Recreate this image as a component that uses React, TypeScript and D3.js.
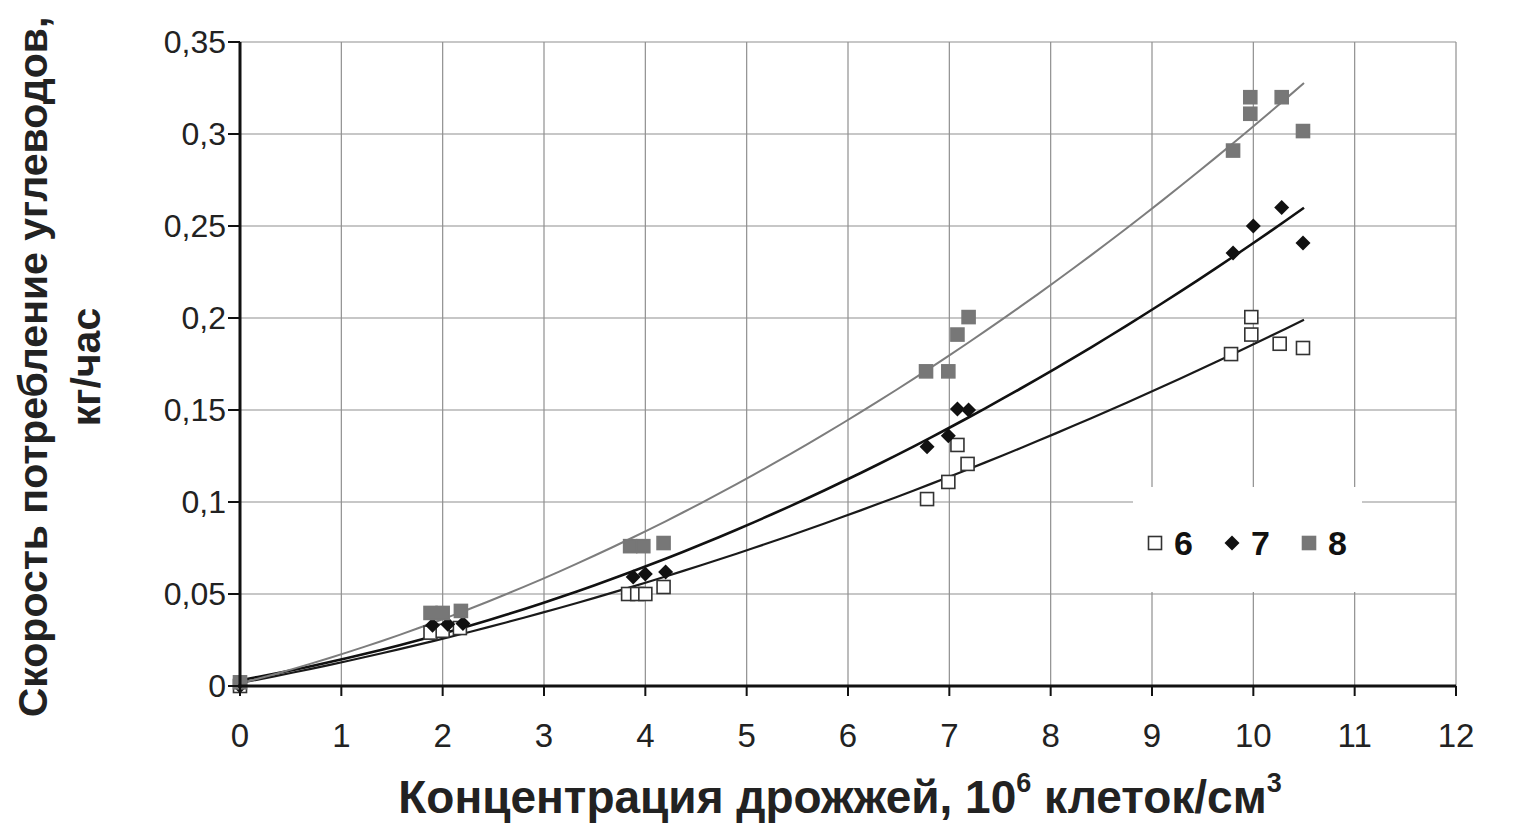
import React from "react";
import * as d3 from "d3";

// readings: [x (10^6 cells/cm3), y (kg/h)]
const series6: [number, number][] = [
  [0, 0], [1.88, 0.029], [2.0, 0.030], [2.17, 0.0315],
  [3.83, 0.050], [3.92, 0.050], [4.0, 0.050], [4.18, 0.0538],
  [6.78, 0.1016], [6.99, 0.1109], [7.08, 0.131], [7.18, 0.1207],
  [9.78, 0.1804], [9.98, 0.2005], [9.98, 0.191], [10.26, 0.186], [10.49, 0.1837],
];
const series7: [number, number][] = [
  [0, 0], [1.9, 0.033], [2.05, 0.0335], [2.2, 0.034],
  [3.88, 0.0592], [4.0, 0.0609], [4.2, 0.062],
  [6.78, 0.130], [6.99, 0.136], [7.08, 0.1505], [7.19, 0.150],
  [9.8, 0.2353], [10.0, 0.250], [10.28, 0.260], [10.49, 0.2408],
];
const series8: [number, number][] = [
  [0, 0.002], [1.88, 0.0397], [2.0, 0.0397], [2.18, 0.0408],
  [3.85, 0.076], [3.98, 0.076], [4.18, 0.0777],
  [6.77, 0.171], [6.99, 0.171], [7.08, 0.191], [7.19, 0.2005],
  [9.8, 0.291], [9.97, 0.320], [9.97, 0.311], [10.28, 0.320], [10.49, 0.3016],
];
const legendNames = ["6", "7", "8"];
const xTicks = d3.range(0, 13, 1);
const yTicks = [0, 0.05, 0.1, 0.15, 0.2, 0.25, 0.3, 0.35];
const trendEnd = 10.5;

const W = 1517;
const H = 827;
const ruLocale = d3.formatLocale({ decimal: ",", thousands: " ", grouping: [3], currency: ["", ""] });
const fmt = ruLocale.format("~g");

// least squares fit, y = a + b x + c x^2
function quadFit(pts: [number, number][]) {
  let s0 = 0, s1 = 0, s2 = 0, s3 = 0, s4 = 0, t0 = 0, t1 = 0, t2 = 0;
  for (const [x, y] of pts) {
    s0 += 1; s1 += x; s2 += x * x; s3 += x ** 3; s4 += x ** 4;
    t0 += y; t1 += x * y; t2 += x * x * y;
  }
  const m = [[s0, s1, s2, t0], [s1, s2, s3, t1], [s2, s3, s4, t2]];
  for (let i = 0; i < 3; i++) {
    for (let k = i + 1; k < 3; k++) {
      const f = m[k][i] / m[i][i];
      for (let j = i; j < 4; j++) m[k][j] -= f * m[i][j];
    }
  }
  const r = [0, 0, 0];
  for (let i = 2; i >= 0; i--) {
    let s = m[i][3];
    for (let j = i + 1; j < 3; j++) s -= m[i][j] * r[j];
    r[i] = s / m[i][i];
  }
  return (x: number) => r[0] + r[1] * x + r[2] * x * x;
}

export default function App() {
  const x = d3.scaleLinear().domain([0, 12]).range([240, 1456]);
  const y = d3.scaleLinear().domain([0, 0.35]).range([686, 42]);

  const xs = d3.range(0, trendEnd + 0.001, trendEnd / 60);
  const fit6 = quadFit(series6);
  const fit7 = quadFit(series7);
  const fit8 = quadFit(series8);
  const curve = (f: (v: number) => number) =>
    d3.line<number>().x(d => x(d)).y(d => y(f(d)))(xs) ?? "";

  const square = (cx: number, cy: number, fill: string, stroke: string, key: string) => (
    <rect key={key} x={cx - 6.5} y={cy - 6.5} width={13} height={13} fill={fill} stroke={stroke} strokeWidth={1.6} />
  );
  const diamond = (cx: number, cy: number, key: string) => (
    <path key={key} d={`M${cx},${cy - 7.5}L${cx + 7.5},${cy}L${cx},${cy + 7.5}L${cx - 7.5},${cy}Z`} fill="#111" />
  );

  const font = "Liberation Sans, Arial, sans-serif";

  return (
    <svg width={W} height={H} style={{ position: "absolute", left: 0, top: 0, background: "#fff" }} fontFamily={font}>
      {/* grid */}
      {xTicks.slice(1).map(t => (
        <line key={"gx" + t} x1={x(t)} x2={x(t)} y1={y(0.35)} y2={y(0)} stroke="#8f8f8f" strokeWidth={1.2} />
      ))}
      {yTicks.slice(1).map(t => (
        <line key={"gy" + t} x1={x(0)} x2={x(12)} y1={y(t)} y2={y(t)} stroke="#8f8f8f" strokeWidth={1.2} />
      ))}

      {/* trend lines */}
      <path d={curve(fit6)} fill="none" stroke="#1a1a1a" strokeWidth={2.2} />
      <path d={curve(fit7)} fill="none" stroke="#111" strokeWidth={2.6} />
      <path d={curve(fit8)} fill="none" stroke="#7d7d7d" strokeWidth={2} />

      {/* points */}
      {series6.map(([a, b], i) => square(x(a), y(b), "#fff", "#333", "s6" + i))}
      {series7.map(([a, b], i) => diamond(x(a), y(b), "s7" + i))}
      {series8.map(([a, b], i) => square(x(a), y(b), "#777", "#777", "s8" + i))}

      {/* legend */}
      <rect x={1133} y={487} width={229} height={105} fill="#fff" />
      {legendNames.map((n, i) => {
        const lx = 1155 + i * 77;
        return (
          <g key={"lg" + n}>
            {i === 0 && square(lx, 543, "#fff", "#333", "lm0")}
            {i === 1 && diamond(lx, 543, "lm1")}
            {i === 2 && square(lx, 543, "#777", "#777", "lm2")}
            <text x={lx + 19} y={555} fontSize={34} fontWeight="bold" fill="#111">{n}</text>
          </g>
        );
      })}

      {/* axes */}
      <line x1={x(0)} x2={x(0)} y1={y(0.35)} y2={y(0) + 2} stroke="#111" strokeWidth={3} />
      <line x1={x(0) - 2} x2={x(12)} y1={y(0)} y2={y(0)} stroke="#111" strokeWidth={3} />
      {yTicks.map(t => (
        <g key={"yt" + t}>
          <line x1={x(0) - 12} x2={x(0)} y1={y(t)} y2={y(t)} stroke="#111" strokeWidth={2} />
          <text x={226} y={y(t) + 11} textAnchor="end" fontSize={32} fill="#222">{fmt(t)}</text>
        </g>
      ))}
      {xTicks.map(t => (
        <g key={"xt" + t}>
          <line x1={x(t)} x2={x(t)} y1={y(0)} y2={y(0) + 10} stroke="#111" strokeWidth={2} />
          <text x={x(t)} y={747} textAnchor="middle" fontSize={33} fill="#222">{fmt(t)}</text>
        </g>
      ))}

      {/* titles */}
      <text transform="translate(47,367) rotate(-90)" textAnchor="middle" fontSize={41} fontWeight="bold" fill="#222">
        Скорость потребление углеводов,
      </text>
      <text transform="translate(100,367) rotate(-90)" textAnchor="middle" fontSize={41} fontWeight="bold" fill="#222">
        кг/час
      </text>
      <text x={840} y={813} textAnchor="middle" fontSize={46} fontWeight="bold" fill="#222">
        Концентрация дрожжей, 10<tspan fontSize={27} dy={-21}>6</tspan>
        <tspan dy={21}> клеток/см</tspan>
        <tspan fontSize={27} dy={-21}>3</tspan>
      </text>
    </svg>
  );
}
